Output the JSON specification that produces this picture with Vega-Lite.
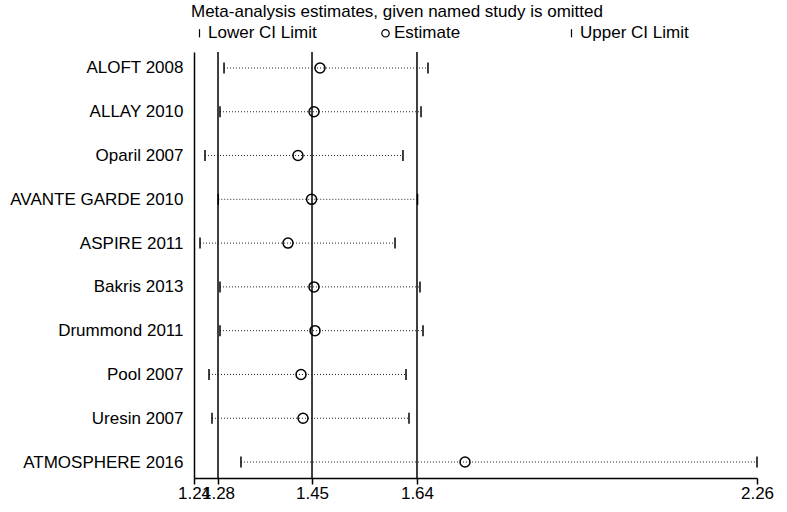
{
  "$schema": "https://vega.github.io/schema/vega-lite/v6.json",
  "autosize": {"type": "none"},
  "padding": {"left": 194, "top": 52, "right": 30, "bottom": 34},
  "width": 563,
  "height": 426,
  "background": "white",
  "config": {
    "font": "Liberation Sans",
    "view": {"stroke": null},
    "axis": {"labelColor": "black", "domainColor": "black", "tickColor": "black", "labelFont": "Liberation Sans", "labelFontSize": 17}
  },
  "datasets": {
    "studies": [
      {"study": "ALOFT 2008", "Lower CI Limit": 1.2944, "Estimate": 1.4683, "Upper CI Limit": 1.6639},
      {"study": "ALLAY 2010", "Lower CI Limit": 1.2871, "Estimate": 1.4574, "Upper CI Limit": 1.6513},
      {"study": "Oparil 2007", "Lower CI Limit": 1.2599, "Estimate": 1.4284, "Upper CI Limit": 1.6186},
      {"study": "AVANTE GARDE 2010", "Lower CI Limit": 1.284, "Estimate": 1.453, "Upper CI Limit": 1.645},
      {"study": "ASPIRE 2011", "Lower CI Limit": 1.2509, "Estimate": 1.4103, "Upper CI Limit": 1.6042},
      {"study": "Bakris 2013", "Lower CI Limit": 1.2871, "Estimate": 1.4574, "Upper CI Limit": 1.6494},
      {"study": "Drummond 2011", "Lower CI Limit": 1.2871, "Estimate": 1.4592, "Upper CI Limit": 1.6549},
      {"study": "Pool 2007", "Lower CI Limit": 1.2672, "Estimate": 1.4339, "Upper CI Limit": 1.6241},
      {"study": "Uresin 2007", "Lower CI Limit": 1.2726, "Estimate": 1.4375, "Upper CI Limit": 1.6295},
      {"study": "ATMOSPHERE 2016", "Lower CI Limit": 1.3251, "Estimate": 1.731, "Upper CI Limit": 2.26}
    ],
    "overall": [
      {"value": 1.2835},
      {"value": 1.4538},
      {"value": 1.644}
    ]
  },
  "layer": [
    {
      "data": {"name": "overall"},
      "mark": {"type": "rule", "color": "black", "strokeWidth": 1.5},
      "encoding": {
        "x": {"field": "value", "type": "quantitative", "scale": {"domain": [1.24, 2.26], "nice": false, "zero": false}}
      }
    },
    {
      "data": {"name": "studies"},
      "mark": {"type": "rule", "color": "#222222", "strokeWidth": 1, "strokeDash": [1, 2]},
      "encoding": {
        "x": {"field": "Lower CI Limit", "type": "quantitative"},
        "x2": {"field": "Upper CI Limit"},
        "y": {
          "field": "study", "type": "nominal",
          "sort": ["ALOFT 2008", "ALLAY 2010", "Oparil 2007", "AVANTE GARDE 2010", "ASPIRE 2011", "Bakris 2013", "Drummond 2011", "Pool 2007", "Uresin 2007", "ATMOSPHERE 2016"]
        }
      }
    },
    {
      "data": {"name": "studies"},
      "transform": [
        {"fold": ["Lower CI Limit", "Estimate", "Upper CI Limit"], "as": ["key", "val"]}
      ],
      "mark": {"type": "point", "filled": false, "stroke": "black", "strokeWidth": 1.5, "size": 100, "opacity": 1},
      "encoding": {
        "x": {
          "field": "val", "type": "quantitative",
          "scale": {"domain": [1.24, 2.26], "nice": false, "zero": false},
          "axis": {
            "title": null, "grid": false, "values": [1.24, 1.2835, 1.4538, 1.644, 2.26], "format": ".2f",
            "labelFlush": false, "labelOverlap": false, "tickSize": 6, "labelPadding": 1,
            "domainWidth": 1.5, "tickWidth": 1.5
          }
        },
        "y": {
          "field": "study", "type": "nominal",
          "sort": ["ALOFT 2008", "ALLAY 2010", "Oparil 2007", "AVANTE GARDE 2010", "ASPIRE 2011", "Bakris 2013", "Drummond 2011", "Pool 2007", "Uresin 2007", "ATMOSPHERE 2016"],
          "scale": {"type": "point", "padding": 0.365},
          "axis": {"title": null, "ticks": false, "labelPadding": 11, "domainWidth": 1.5, "grid": false}
        },
        "shape": {
          "field": "key", "type": "nominal",
          "scale": {"domain": ["Lower CI Limit", "Estimate", "Upper CI Limit"], "range": ["M0,-1.1L0,1.1", "circle", "M0,-1.1L0,1.1"]},
          "legend": {
            "title": "Meta-analysis estimates, given named study is omitted",
            "orient": "none", "legendX": -3, "legendY": -48.5,
            "direction": "horizontal", "columns": 3, "gridAlign": "all", "columnPadding": 60,
            "padding": 0, "titlePadding": 4,
            "titleFont": "Liberation Sans", "titleFontSize": 17, "titleFontWeight": "normal", "titleColor": "black", "titleLimit": 0,
            "labelFont": "Liberation Sans", "labelFontSize": 17, "labelColor": "black", "labelLimit": 0, "labelOffset": 0,
            "symbolSize": 55, "symbolStrokeColor": "black", "symbolStrokeWidth": 1.2, "symbolFillColor": "transparent",
            "encode": {"title": {"update": {"dx": {"value": 12}}}}
          }
        }
      }
    }
  ]
}
